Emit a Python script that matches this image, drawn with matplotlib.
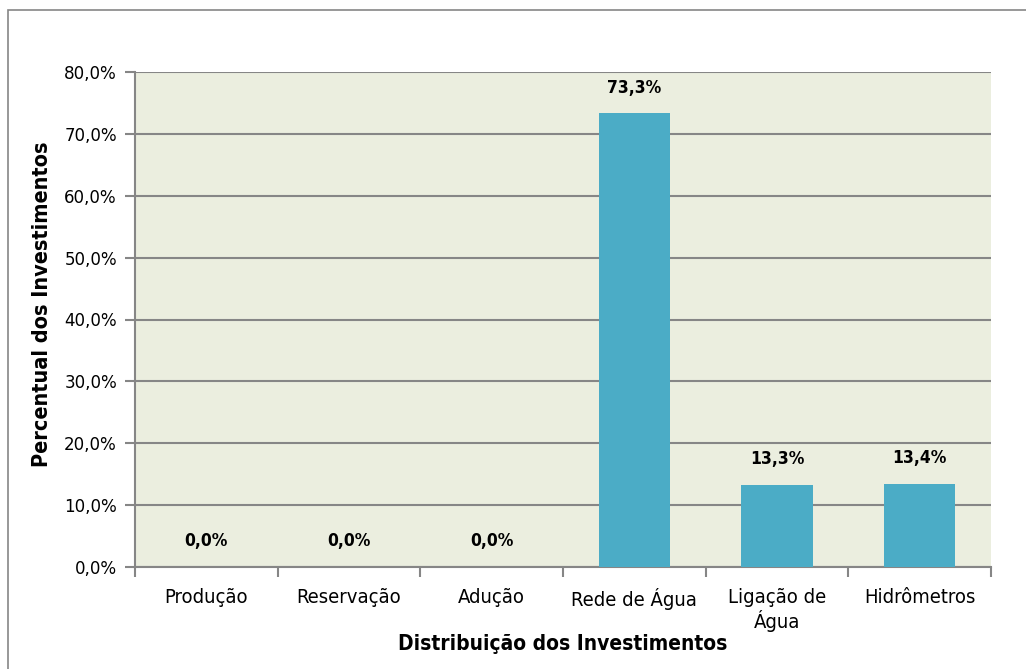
import matplotlib
matplotlib.use('Agg')
import matplotlib.pyplot as plt
from matplotlib.patches import Rectangle
from matplotlib.ticker import MultipleLocator, FuncFormatter

# data
categorias = ['Produção', 'Reservação', 'Adução', 'Rede de Água', 'Ligação de\nÁgua', 'Hidrômetros']
percentuais = [0.0, 0.0, 0.0, 73.3, 13.3, 13.4]

# everything in the chart uses a condensed sans
plt.rcParams['font.family'] = ['DejaVu Sans']
plt.rcParams['font.stretch'] = 'condensed'

fig = plt.figure(figsize=(10.26, 6.69), dpi=100)
ax = fig.add_axes([135/1026, 1 - 567/669, (991-135)/1026, (567-72)/669])

# outer chart frame
fig.patches.append(Rectangle((8/1026, -0.05), 1.2, 1 - 10/669 + 0.05, transform=fig.transFigure,
                             fill=False, edgecolor='#868686', lw=1.2))

ax.set_facecolor('#EBEEDF')
x = range(len(categorias))
ax.bar(x, percentuais, width=0.5, color='#4BACC6', zorder=3)

for xi, v in zip(x, percentuais):
    ax.annotate(f'{v:.1f}%'.replace('.', ','), (xi, v), xytext=(0, 12), textcoords='offset points',
                ha='center', va='bottom', fontsize=12.5, fontweight='bold')

ax.set_xlim(-0.5, len(categorias) - 0.5)
ax.set_ylim(0, 80)
ax.yaxis.set_major_locator(MultipleLocator(10))
ax.yaxis.set_major_formatter(FuncFormatter(lambda v, p: f'{v:.1f}%'.replace('.', ',')))
ax.grid(axis='y', color='#868686', lw=1.5, zorder=1)

ax.set_xticks([i - 0.5 for i in range(len(categorias) + 1)], minor=False)
ax.set_xticklabels([])
ax.set_xticks(list(x), minor=True)
ax.set_xticklabels(categorias, minor=True, fontsize=14.5)
ax.tick_params(axis='x', which='major', length=7, color='#868686', width=1.5)
ax.tick_params(axis='x', which='minor', length=0, pad=15)
ax.tick_params(axis='y', length=7, color='#868686', width=1.5, labelsize=13.3, pad=6)

for s in ['top', 'right']:
    ax.spines[s].set_visible(False)
for s in ['left', 'bottom']:
    ax.spines[s].set_color('#868686')
    ax.spines[s].set_linewidth(1.5)

ax.set_xlabel('Distribuição dos Investimentos', fontsize=15, fontweight='bold', labelpad=1)
ax.set_ylabel('Percentual dos Investimentos', fontsize=15.5, fontweight='bold')
ax.yaxis.set_label_coords(-0.097, 0.53)

fig.savefig('out.png', dpi=100)
